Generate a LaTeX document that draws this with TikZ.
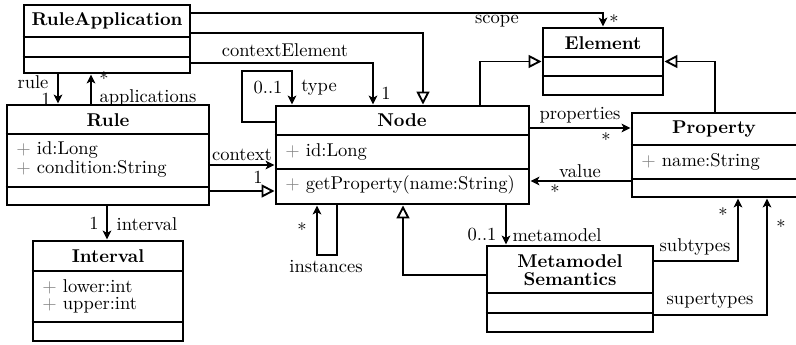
\documentclass[tikz,border=0pt]{standalone}
\usetikzlibrary{arrows.meta,fit}
\begin{document}
\begin{tikzpicture}[x=0.54pt,y=-0.54pt,
  cls/.style={draw, line width=1.6pt, inner sep=0pt, fill=white},
  div/.style={line width=1.6pt},
  assoc/.style={line width=1pt, -{Stealth[length=4.8pt,width=4.6pt,inset=1.2pt]}},
  inherit/.style={line width=1pt, -{Triangle[open,length=7pt,width=7pt,fill=white]}},
  hdr/.style={font=\bfseries, inner sep=0pt, align=center},
  attr/.style={anchor=west, inner sep=0pt},
  lbl/.style={inner sep=0pt}]
\useasboundingbox (0,0) rectangle (796,345);
\newcommand{\gplus}{{\color{gray}+}\ }
% ---- classes ----
% RuleApplication
\node[cls, fit={(24,5) (190,73)}] (ra) {};
\draw[div] (ra.west |- 0,37) -- (ra.east |- 0,37);
\draw[div] (ra.west |- 0,57) -- (ra.east |- 0,57);
\node[hdr] (ra-t) at (107,21) {RuleApplication};
% Rule
\node[cls, fit={(7,105) (209,205)}] (ru) {};
\draw[div] (ru.west |- 0,134) -- (ru.east |- 0,134);
\draw[div] (ru.west |- 0,187) -- (ru.east |- 0,187);
\node[hdr] (ru-t) at (108,120) {Rule};
\node[attr] (ru-a1) at (16,150) {\gplus id:Long};
\node[attr] (ru-a2) at (16,169) {\gplus condition:String};
% Interval
\node[cls, fit={(33,241) (183,341)}] (iv) {};
\draw[div] (iv.west |- 0,271) -- (iv.east |- 0,271);
\draw[div] (iv.west |- 0,322) -- (iv.east |- 0,322);
\node[hdr] (iv-t) at (108,256) {Interval};
\node[attr] (iv-a1) at (42,287) {\gplus lower:int};
\node[attr] (iv-a2) at (42,305) {\gplus upper:int};
% Node
\node[cls, fit={(276,106) (529,204)}] (nd) {};
\draw[div] (nd.west |- 0,135) -- (nd.east |- 0,135);
\draw[div] (nd.west |- 0,169) -- (nd.east |- 0,169);
\node[hdr] (nd-t) at (402,120) {Node};
\node[attr] (nd-a1) at (285,152) {\gplus id:Long};
\node[attr] (nd-m1) at (285,185) {\gplus getProperty(name:String)};
% Element
\node[cls, fit={(543,28) (663,95)}] (el) {};
\draw[div] (el.west |- 0,57) -- (el.east |- 0,57);
\draw[div] (el.west |- 0,76) -- (el.east |- 0,76);
\node[hdr] (el-t) at (603,43) {Element};
% Property
\node[cls, fit={(632,113) (798,197)}] (pr) {};
\draw[div] (pr.west |- 0,145) -- (pr.east |- 0,145);
\draw[div] (pr.west |- 0,179) -- (pr.east |- 0,179);
\node[hdr] (pr-t) at (714,129) {Property};
\node[attr] (pr-a1) at (641,162) {\gplus name:String};
% Metamodel Semantics
\node[cls, fit={(487,246) (653,332)}] (ms) {};
\draw[div] (ms.west |- 0,293) -- (ms.east |- 0,293);
\draw[div] (ms.west |- 0,313) -- (ms.east |- 0,313);
\node[hdr] (ms-t) at (570,270) {Metamodel\\[-2pt]Semantics};
% ---- connectors ----
% scope
\draw[assoc] (ra.east |- 0,13) -| (el.north);
\node[lbl] (l-scope) at (497,21) {scope};
\node[lbl] (l-scope-m) at (614,22) {*};
% RuleApplication -> Node inheritance
\draw[inherit] (ra.east |- 0,33) -| (423,0 |- nd.north);
% contextElement
\draw[assoc] (ra.east |- 0,63) -| (373,0 |- nd.north);
\node[lbl] (l-ce) at (285,50) {contextElement};
\node[lbl] (l-ce-m) at (386,93) {1};
% type (self loop)
\draw[assoc] (nd.west |- 0,122) -- (242,122) |- (292,71) -- (292,0 |- nd.north);
\node[lbl] (l-type-m) at (268,88) {0..1};
\node[lbl] (l-type) at (319,88) {type};
% properties
\draw[assoc] (nd.east |- 0,128) -- (pr.west |- 0,128);
\node[lbl] (l-prop) at (580,115) {properties};
\node[lbl] (l-prop-m) at (606,140) {*};
% value
\draw[assoc] (pr.west |- 0,181) -- (nd.east |- 0,181);
\node[lbl] (l-val) at (580,171) {value};
\node[lbl] (l-val-m) at (555,192) {*};
% Node -> Element
\draw[inherit] (480,0 |- nd.north) |- (el.west);
% Property -> Element
\draw[inherit] (715,0 |- pr.north) |- (el.east);
% rule
\draw[assoc] (58,0 |- ra.south) -- (58,0 |- ru.north);
\node[lbl] (l-rule) at (33,82) {rule};
\node[lbl] (l-rule-m) at (46,99) {1};
% applications
\draw[assoc] (91,0 |- ru.north) -- (91,0 |- ra.south);
\node[lbl] (l-app-m) at (104,79) {*};
\node[lbl] (l-app) at (148,98) {applications};
% context
\draw[assoc] (ru.east |- 0,165) -- (nd.west |- 0,165);
\node[lbl] (l-ctx) at (242,155) {context};
\node[lbl] (l-ctx-m) at (258,177) {1};
% Rule -> Node inheritance
\draw[inherit] (ru.east |- 0,191) -- (nd.west |- 0,191);
% interval
\draw[assoc] (107,0 |- ru.south) -- (107,0 |- iv.north);
\node[lbl] (l-int-m) at (94,223) {1};
\node[lbl] (l-int) at (147,224) {interval};
% instances (self loop)
\draw[assoc] (337,0 |- nd.south) -- (337,255) -- (317,255) -- (317,0 |- nd.south);
\node[lbl] (l-inst-m) at (302,230) {*};
\node[lbl] (l-inst) at (326,267) {instances};
% Metamodel Semantics -> Node
\draw[inherit] (ms.west |- 0,275) -| (403,0 |- nd.south);
% metamodel
\draw[assoc] (506,0 |- nd.south) -- (506,0 |- ms.north);
\node[lbl] (l-mm-m) at (482,235) {0..1};
\node[lbl] (l-mm) at (557,235) {metamodel};
% subtypes
\draw[assoc] (ms.east |- 0,261) -| (738,0 |- pr.south);
\node[lbl] (l-sub) at (695,247) {subtypes};
\node[lbl] (l-sub-m) at (723,215) {*};
% supertypes
\draw[assoc] (ms.east |- 0,315) -| (767,0 |- pr.south);
\node[lbl] (l-sup) at (710,301) {supertypes};
\node[lbl] (l-sup-m) at (781,227) {*};
\end{tikzpicture}
\end{document}
